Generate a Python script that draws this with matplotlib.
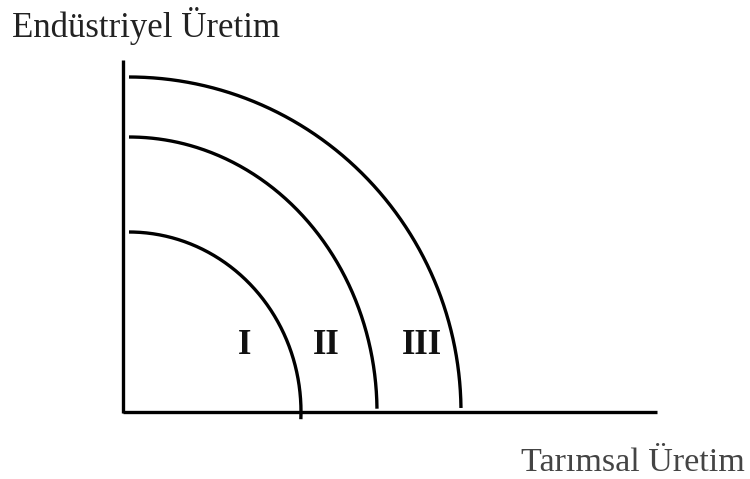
import numpy as np
import matplotlib
matplotlib.use("Agg")
import matplotlib.pyplot as plt

# Data (diagram units: origin at the corner of the axes)
curve_labels = ["I", "II", "III"]
x_intercepts = [172, 248, 332]   # horizontal radius of each frontier
y_intercepts = [180, 275, 335]   # vertical radius of each frontier
label_x = [122, 203, 299]
label_y = 66
y_axis_title = "Endüstriyel Üretim"
x_axis_title = "Tarımsal Üretim"

fig = plt.figure(figsize=(7.5, 4.79), dpi=100)
ax = fig.add_axes([0, 0, 1, 1])
ax.set_xlim(-123, 627)
ax.set_ylim(-67, 412)
ax.axis("off")

# axes lines
ax.plot([0, 0], [-1, 352], color="black", lw=2.4, solid_capstyle="butt")
ax.plot([0, 534], [0, 0], color="black", lw=2.4, solid_capstyle="butt")

x0 = 6
for i, (rx, ry) in enumerate(zip(x_intercepts, y_intercepts)):
    end = -0.04 if i == 0 else 0.012
    t = np.linspace(end, np.pi / 2, 300)
    ax.plot(x0 + rx * np.cos(t), ry * np.sin(t), color="black", lw=2.4,
            solid_capstyle="butt")

for lab, lx in zip(curve_labels, label_x):
    ax.text(lx, label_y, lab, fontsize=25, fontweight="bold",
            family="Liberation Serif", ha="center", va="center", color="#111111")

fig.text(12 / 750, 1 - 37 / 479, y_axis_title, fontsize=25,
         family="Liberation Serif", ha="left", va="baseline", color="#222222")
fig.text(745 / 750, 1 - 471 / 479, x_axis_title, fontsize=24.5,
         family="Liberation Serif", ha="right", va="baseline", color="#444444")

fig.savefig("out.png", dpi=100)
